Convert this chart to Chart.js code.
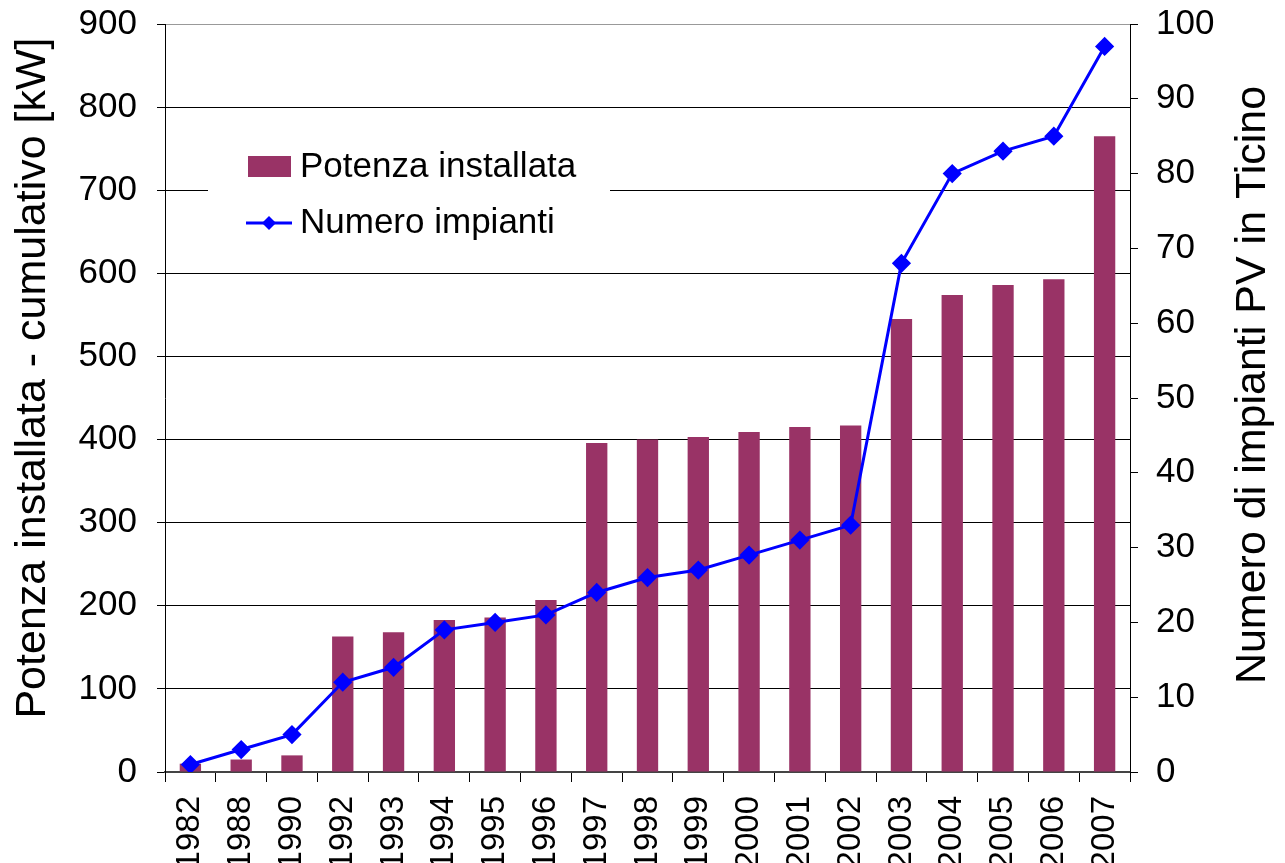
<!DOCTYPE html>
<html>
<head>
<meta charset="utf-8">
<script src="https://cdn.jsdelivr.net/npm/chart.js@4"></script>
<style>
  html, body { margin: 0; padding: 0; background: #fff; }
  #wrap { width: 1285px; height: 863px; }
</style>
</head>
<body>
<div id="wrap"><canvas id="chart" width="1285" height="863"></canvas></div>
<script>
const years = ['1982','1988','1990','1992','1993','1994','1995','1996','1997','1998',
  '1999','2000','2001','2002','2003','2004','2005','2006','2007'];
const potenza = [10, 15, 20, 163, 168, 183, 186, 207, 396, 400, 403, 409, 415, 417, 545, 574, 586, 593, 765];
const impianti = [1, 3, 5, 12, 14, 19, 20, 21, 24, 26, 27, 29, 31, 33, 68, 80, 83, 85, 97];
const leftTicks = [0, 100, 200, 300, 400, 500, 600, 700, 800, 900];
const rightTicks = [0, 10, 20, 30, 40, 50, 60, 70, 80, 90, 100];

const FONT = "'Liberation Sans', Arial, sans-serif";
const BAR = '#993366';
const LINE = '#0000ff';

function vText(ctx, text, x, y) {
  ctx.save();
  ctx.translate(x, y);
  ctx.rotate(-Math.PI / 2);
  ctx.font = '43px ' + FONT;
  ctx.textAlign = 'center';
  ctx.textBaseline = 'alphabetic';
  ctx.fillStyle = '#000';
  ctx.fillText(text, 0, 0);
  ctx.restore();
}

// legend box inside the plot + both axis titles reading bottom-to-top
const extras = {
  id: 'extras',
  afterDraw(chart) {
    const ctx = chart.ctx;
    const a = chart.chartArea;
    ctx.save();
    const lx = a.left + 43, ly = a.top + 106;
    ctx.fillStyle = '#fff';
    ctx.fillRect(lx, ly, 402, 120);
    ctx.fillStyle = BAR;
    ctx.fillRect(lx + 40, ly + 26, 43, 21);
    ctx.strokeStyle = LINE;
    ctx.lineWidth = 3;
    ctx.beginPath();
    ctx.moveTo(lx + 38, ly + 93);
    ctx.lineTo(lx + 84, ly + 93);
    ctx.stroke();
    ctx.fillStyle = LINE;
    ctx.beginPath();
    ctx.moveTo(lx + 61, ly + 86);
    ctx.lineTo(lx + 68, ly + 93);
    ctx.lineTo(lx + 61, ly + 100);
    ctx.lineTo(lx + 54, ly + 93);
    ctx.closePath();
    ctx.fill();
    ctx.fillStyle = '#000';
    ctx.font = '35px ' + FONT;
    ctx.textBaseline = 'middle';
    ctx.textAlign = 'left';
    ctx.fillText('Potenza installata', lx + 92, ly + 37);
    ctx.fillText('Numero impianti', lx + 92, ly + 93);
    ctx.restore();
    vText(ctx, 'Potenza installata - cumulativo [kW]', 45, 378);
    vText(ctx, 'Numero di impianti PV in Ticino', 1265, 385);
  }
};

function noPad(scale) {
  scale.paddingTop = 0;
  scale.paddingBottom = 0;
}

new Chart(document.getElementById('chart').getContext('2d'), {
  data: {
    labels: years,
    datasets: [
      {
        type: 'line',
        label: 'Numero impianti',
        data: impianti,
        yAxisID: 'y1',
        borderColor: LINE,
        backgroundColor: LINE,
        borderWidth: 3,
        pointStyle: 'rectRot',
        pointRadius: 7.5,
        pointHoverRadius: 7.5,
        tension: 0,
        order: 0
      },
      {
        type: 'bar',
        label: 'Potenza installata',
        data: potenza,
        yAxisID: 'y',
        backgroundColor: BAR,
        barPercentage: 0.42,
        categoryPercentage: 1.0,
        order: 1
      }
    ]
  },
  plugins: [extras],
  options: {
    responsive: false,
    animation: false,
    layout: { padding: { top: 24, left: 0, right: 0, bottom: 0 } },
    plugins: {
      legend: { display: false },
      tooltip: { enabled: false }
    },
    scales: {
      x: {
        offset: true,
        grid: {
          offset: true,
          drawOnChartArea: false,
          drawTicks: true,
          tickLength: 10,
          color: '#000'
        },
        border: { color: '#444', width: 2 },
        ticks: {
          color: '#000',
          font: { family: FONT, size: 33 },
          maxRotation: 90,
          minRotation: 90,
          padding: 14,
          autoSkip: false
        },
        afterFit(scale) {
          scale.height = 91;
          scale.paddingLeft = 0;
          scale.paddingRight = 0;
        }
      },
      y: {
        position: 'left',
        min: 0,
        max: 900,
        afterBuildTicks(scale) { scale.ticks = leftTicks.map(v => ({ value: v })); },
        grid: {
          color: (c) => c.tick && c.tick.value === 900 ? '#999' : '#000',
          lineWidth: 1,
          tickLength: 8,
          tickColor: '#000'
        },
        border: { color: '#000', width: 1 },
        ticks: {
          color: '#000',
          font: { family: FONT, size: 35 },
          padding: 20
        },
        afterFit(scale) { scale.width = 165; noPad(scale); }
      },
      y1: {
        position: 'right',
        min: 0,
        max: 100,
        afterBuildTicks(scale) { scale.ticks = rightTicks.map(v => ({ value: v })); },
        grid: {
          drawOnChartArea: false,
          tickLength: 8,
          tickColor: '#000'
        },
        border: { color: '#000', width: 1 },
        ticks: {
          color: '#000',
          font: { family: FONT, size: 35 },
          padding: 18
        },
        afterFit(scale) { scale.width = 155; noPad(scale); }
      }
    }
  }
});
</script>
</body>
</html>
